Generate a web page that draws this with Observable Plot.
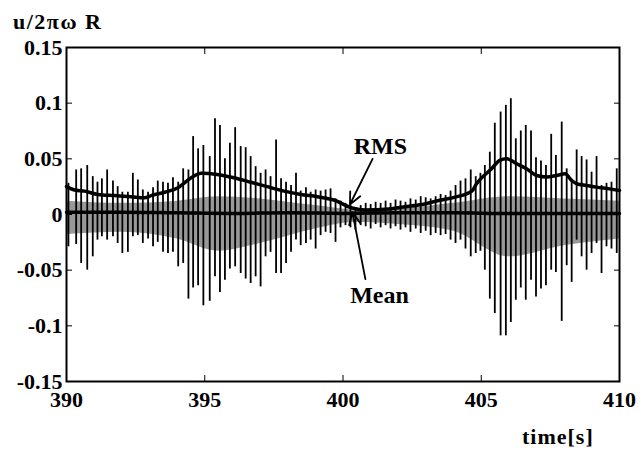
<!DOCTYPE html>
<html><head><meta charset="utf-8">
<script src="https://cdn.jsdelivr.net/npm/d3@7"></script>
<script src="https://cdn.jsdelivr.net/npm/@observablehq/plot@0.6"></script>
<style>
body{margin:0;background:#fff;color:#000;font-family:"Liberation Serif","Times New Roman",serif;font-weight:bold;width:641px;}
#ylab{height:40px;box-sizing:border-box;padding:11px 0 0 13px;font-size:22px;letter-spacing:1.5px;line-height:1;}
#xlab{height:27px;box-sizing:border-box;padding:6px 0 0 522px;font-size:22px;letter-spacing:1px;line-height:1;}
#chart svg{overflow:visible;display:block;}
</style></head><body>
<div id="ylab">u/2πω R</div>
<div id="chart"></div>
<div id="xlab">time[s]</div>
<script>
// spikes of the oscillating signal (time [s], upper peak, lower peak)
const spikeTime = [390.07,390.35,390.53,390.75,390.95,391.12,391.28,391.47,391.68,391.85,392.02,392.22,392.40,392.58,392.76,392.95,393.13,393.30,393.49,393.67,393.85,394.04,394.22,394.41,394.58,394.76,394.95,
395.18,395.37,395.55,395.73,395.91,396.10,396.30,396.48,396.66,396.84,397.02,397.20,397.38,397.58,397.76,397.94,398.12,398.30,398.47,398.66,398.83,399.01,399.19,399.37,399.55,399.73,
399.91,400.09,400.27,400.45,400.64,400.82,401.00,401.18,401.36,401.54,401.72,401.90,402.08,402.26,402.44,402.63,402.81,402.99,403.17,403.35,403.53,403.71,403.89,404.07,404.25,404.43,404.62,404.80,
404.97,405.13,405.31,405.49,405.70,405.89,406.07,406.25,406.43,406.61,406.80,406.98,407.16,407.34,407.53,407.70,407.91,408.09,408.27,408.45,408.63,408.81,408.99,409.17,409.35,409.53,409.71,409.90];
const spikeHigh = [0.028,0.040,0.041,0.044,0.034,0.029,0.032,0.040,0.030,0.025,0.020,0.020,0.037,0.031,0.022,0.020,0.024,0.030,0.029,0.028,0.033,0.029,0.041,0.040,0.070,0.059,0.062,
0.052,0.086,0.080,0.050,0.064,0.078,0.061,0.060,0.052,0.043,0.037,0.040,0.034,0.067,0.032,0.029,0.026,0.037,0.021,0.024,0.020,0.022,0.021,0.022,0.023,0.014,
0.012,0.010,0.008,0.006,0.008,0.010,0.009,0.011,0.010,0.012,0.010,0.013,0.012,0.011,0.014,0.013,0.016,0.015,0.014,0.016,0.018,0.017,0.021,0.026,0.030,0.032,0.040,0.034,
0.037,0.044,0.056,0.082,0.092,0.098,0.104,0.068,0.075,0.080,0.075,0.051,0.048,0.044,0.072,0.053,0.083,0.041,0.030,0.058,0.052,0.049,0.038,0.052,0.026,0.028,0.029,0.041];
const spikeLow = [-0.029,-0.027,-0.044,-0.050,-0.038,-0.023,-0.020,-0.023,-0.020,-0.026,-0.035,-0.034,-0.020,-0.019,-0.026,-0.022,-0.029,-0.025,-0.034,-0.035,-0.034,-0.047,-0.044,-0.076,-0.066,-0.064,-0.082,
-0.078,-0.056,-0.070,-0.059,-0.049,-0.047,-0.053,-0.058,-0.062,-0.056,-0.065,-0.038,-0.034,-0.053,-0.053,-0.044,-0.034,-0.023,-0.028,-0.026,-0.023,-0.031,-0.019,-0.016,-0.017,-0.025,
-0.012,-0.010,-0.012,-0.014,-0.010,-0.011,-0.013,-0.009,-0.012,-0.010,-0.013,-0.011,-0.014,-0.012,-0.016,-0.013,-0.017,-0.015,-0.019,-0.017,-0.019,-0.018,-0.023,-0.026,-0.023,-0.031,-0.038,-0.035,
-0.033,-0.050,-0.076,-0.089,-0.109,-0.109,-0.097,-0.077,-0.066,-0.077,-0.059,-0.074,-0.067,-0.064,-0.050,-0.052,-0.096,-0.046,-0.061,-0.023,-0.038,-0.050,-0.035,-0.026,-0.053,-0.029,-0.031,-0.035];

// dense small-amplitude band around zero
const bandTime = [390,392,394,395.5,397,399,400.5,402,404,406,408,410];
const bandHigh = [0.012,0.010,0.012,0.016,0.014,0.008,0.004,0.005,0.010,0.016,0.014,0.012];
const bandLow  = [-0.018,-0.016,-0.022,-0.033,-0.026,-0.013,-0.007,-0.009,-0.015,-0.038,-0.028,-0.022];

// RMS curve
const rmsTime  = [390,390.29,390.65,391.13,391.74,392.34,392.82,393.06,393.55,394.03,394.51,394.87,395.45,396.06,396.66,397.26,397.87,398.47,399.07,399.67,400.32,400.8,401.65,402.25,402.85,403.46,404.06,404.66,404.83,405.37,405.67,405.92,406.28,406.64,407.0,407.36,407.72,408.03,408.27,408.45,408.81,409.17,409.65,410];
const rmsValue = [0.025,0.022,0.021,0.018,0.017,0.016,0.015,0.017,0.020,0.024,0.033,0.037,0.036,0.033,0.029,0.025,0.021,0.018,0.016,0.013,0.006,0.004,0.005,0.007,0.009,0.0126,0.0156,0.021,0.0276,0.041,0.0486,0.050,0.0456,0.041,0.035,0.0336,0.035,0.0366,0.0306,0.0276,0.0261,0.0246,0.023,0.0216];

// Mean curve
const meanTime  = [390,392,394,396,398,400,402,404,406,408,410];
const meanValue = [0.002,0.002,0.0015,0.001,0.0015,0.001,0.0015,0.0015,0.0008,0.001,0.001];

// axes
const xTicks = [390,395,400,405,410];
const xTickLabels = ["390","395","400","405","410"];
const yTicks = [-0.15,-0.1,-0.05,0,0.05,0.1,0.15];
const yTickLabels = ["-0.15","-0.1","-0.05","0","0.05","0.1","0.15"];

// annotations
const noteLabels = ["RMS","Mean"];
const noteX = [401.35,401.32];
const noteY = [0.061,-0.073];
const arrowFromX = [401.07,400.81];
const arrowFromY = [0.050,-0.058];
const arrowToX = [400.25,400.34];
const arrowToY = [0.009,0.002];

const spikes = spikeTime.map((t,i)=>({t, hi: spikeHigh[i], lo: spikeLow[i]}));
const band = bandTime.map((t,i)=>({t, hi: bandHigh[i], lo: bandLow[i]}));
const rms = rmsTime.map((t,i)=>({t, u: rmsValue[i]}));
const mean = meanTime.map((t,i)=>({t, u: meanValue[i]}));
const notes = noteLabels.map((s,i)=>({s, x: noteX[i], y: noteY[i], x1: arrowFromX[i], y1: arrowFromY[i], x2: arrowToX[i], y2: arrowToY[i]}));

const serif = "'Liberation Serif', 'Times New Roman', serif";
const plot = Plot.plot({
  width: 641, height: 380,
  marginLeft: 66, marginRight: 22, marginTop: 7, marginBottom: 39,
  x: {domain: [390, 410]},
  y: {domain: [-0.15, 0.15]},
  style: {fontFamily: serif, fontWeight: "bold", fontSize: "22px", color: "#000", background: "#fff", overflow: "visible"},
  marks: [
    Plot.areaY(band, {x: "t", y1: "lo", y2: "hi", fill: "#444", fillOpacity: 0.55, curve: "monotone-x"}),
    Plot.ruleX(spikes, {x: "t", y1: "lo", y2: "hi", stroke: "#000", strokeWidth: 1.8}),
    Plot.line(mean, {x: "t", y: "u", stroke: "#000", strokeWidth: 3.5, curve: "monotone-x"}),
    Plot.line(rms, {x: "t", y: "u", stroke: "#000", strokeWidth: 3.5, curve: "monotone-x"}),
    Plot.frame({stroke: "#000", strokeWidth: 2}),
    Plot.axisX({ticks: xTicks, tickSize: -6, tickPadding: 16, tickFormat: d => xTickLabels[xTicks.indexOf(d)], label: null, fontSize: 22, fontWeight: "bold", fontFamily: serif}),
    Plot.axisX({anchor: "top", ticks: xTicks, tickSize: -6, tickFormat: () => "", label: null}),
    Plot.axisY({ticks: yTicks, tickSize: -6, tickPadding: 10, tickFormat: d => yTickLabels[yTicks.indexOf(d)], label: null, fontSize: 22, fontWeight: "bold", fontFamily: serif}),
    Plot.axisY({anchor: "right", ticks: yTicks, tickSize: -6, tickFormat: () => "", label: null}),
    Plot.arrow(notes, {x1: "x1", y1: "y1", x2: "x2", y2: "y2", stroke: "#000", strokeWidth: 1.8, headLength: 11, headAngle: 50}),
    Plot.text(notes, {x: "x", y: "y", text: "s", fontSize: 24, fontWeight: "bold", fontFamily: serif, fill: "#000"})
  ]
});
document.getElementById("chart").appendChild(plot);
</script>
</body></html>
